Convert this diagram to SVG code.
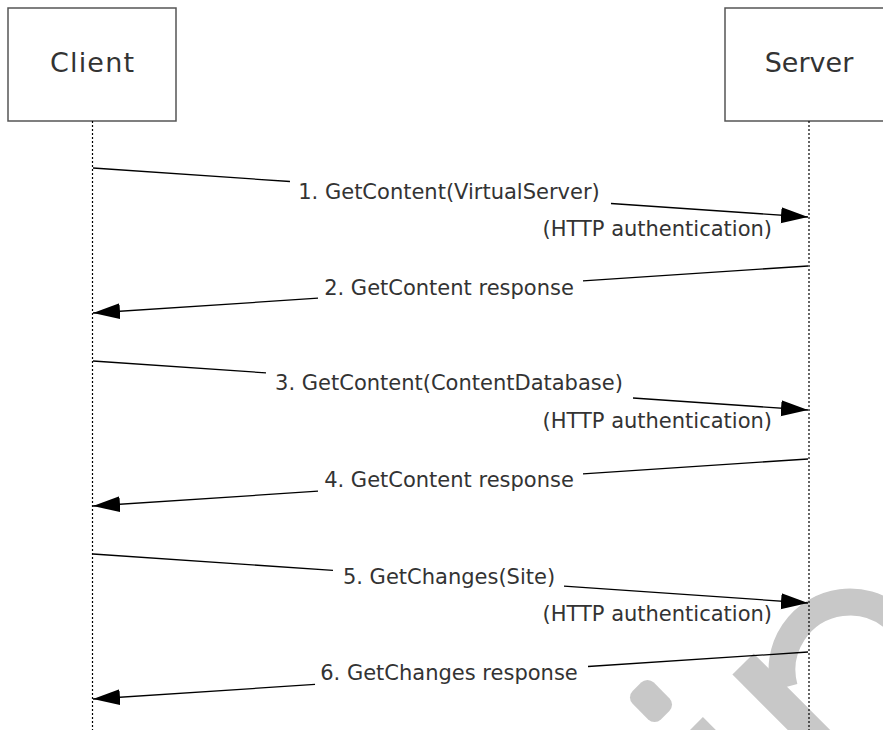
<svg xmlns="http://www.w3.org/2000/svg" width="883" height="730" viewBox="0 0 883 730">
<defs>
<style>
.box{fill:#fff;stroke:#555;stroke-width:1.5}
.life{stroke:#000;stroke-width:1.2;stroke-dasharray:2 2;fill:none}
.msg{stroke:#000;stroke-width:1.3;fill:none}
.t{font-family:"DejaVu Sans",Verdana,sans-serif;font-size:21px;fill:#333}
.h{font-family:"DejaVu Sans",Verdana,sans-serif;font-size:27px;fill:#333;text-anchor:middle}
.wm{fill:#c8c8c8}
</style>
<marker id="arr" markerUnits="userSpaceOnUse" markerWidth="30" markerHeight="18" refX="27" refY="8" orient="auto">
<path d="M0,0 L27,8 L0,16 Z" fill="#000"/>
</marker>
</defs>
<g id="watermark">
<path d="M784.3,687.6 A68,68 0 1 1 918,670" fill="none" stroke="#c8c8c8" stroke-width="27"/>
<rect class="wm" x="0" y="-15" width="120" height="30" transform="translate(743,664) rotate(45)"/>
<rect class="wm" x="-20" y="-15" width="40" height="30" rx="9" transform="translate(651,701) rotate(45)"/>
<rect class="wm" x="0" y="-14" width="40" height="28" transform="translate(693,727) rotate(45)"/>
</g>
<g id="client">
<rect class="box" x="8" y="8" width="168" height="113"/>
<text class="h" x="92" y="72" textLength="84">Client</text>
</g>
<g id="server">
<rect class="box" x="725" y="8" width="168" height="113"/>
<text class="h" x="809" y="72">Server</text>
</g>
<g id="lifelines">
<line class="life" x1="92.5" y1="121" x2="92.5" y2="730"/>
<line class="life" x1="809" y1="121" x2="809" y2="730"/>
</g>
<g id="connectors">
<line class="msg" x1="93" y1="168" x2="290" y2="181.5"/>
<line class="msg" x1="611" y1="203.5" x2="808" y2="217" marker-end="url(#arr)"/>
<line class="msg" x1="808" y1="266" x2="583" y2="280.8"/>
<line class="msg" x1="318" y1="298.2" x2="93" y2="313" marker-end="url(#arr)"/>
<line class="msg" x1="93" y1="361" x2="266" y2="372.9"/>
<line class="msg" x1="633" y1="398" x2="808" y2="410" marker-end="url(#arr)"/>
<line class="msg" x1="808" y1="459" x2="583" y2="473.8"/>
<line class="msg" x1="318" y1="491.2" x2="93" y2="506" marker-end="url(#arr)"/>
<line class="msg" x1="93" y1="554" x2="333" y2="570.4"/>
<line class="msg" x1="564" y1="586.2" x2="808" y2="603" marker-end="url(#arr)"/>
<line class="msg" x1="808" y1="652" x2="588" y2="666.5"/>
<line class="msg" x1="315" y1="684.4" x2="93" y2="699" marker-end="url(#arr)"/>
</g>
<g id="labels">
<text class="t" x="449" y="199" text-anchor="middle">1. GetContent(VirtualServer)</text>
<text class="t" x="772" y="236" text-anchor="end">(HTTP authentication)</text>
<text class="t" x="449" y="295" text-anchor="middle">2. GetContent response</text>
<text class="t" x="449" y="390" text-anchor="middle">3. GetContent(ContentDatabase)</text>
<text class="t" x="772" y="428" text-anchor="end">(HTTP authentication)</text>
<text class="t" x="449" y="487" text-anchor="middle">4. GetContent response</text>
<text class="t" x="449" y="584" text-anchor="middle">5. GetChanges(Site)</text>
<text class="t" x="772" y="621" text-anchor="end">(HTTP authentication)</text>
<text class="t" x="449" y="680" text-anchor="middle">6. GetChanges response</text>
</g>
</svg>
